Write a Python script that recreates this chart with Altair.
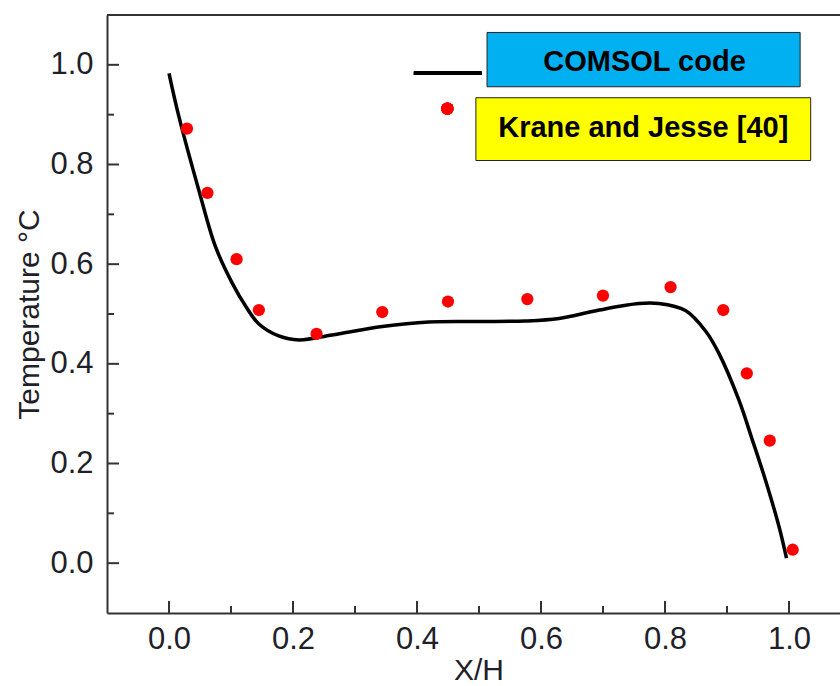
import altair as alt
import pandas as pd

# ---- data ----
line_x = [0.0, 0.016, 0.048, 0.075, 0.102, 0.124, 0.145, 0.177, 0.210, 0.263, 0.344, 0.419,
          0.500, 0.575, 0.629, 0.694, 0.758, 0.790, 0.833, 0.866, 0.887, 0.919, 0.941,
          0.962, 0.984, 0.996]
line_y = [0.983, 0.896, 0.749, 0.635, 0.562, 0.515, 0.480, 0.456, 0.448, 0.458, 0.475, 0.484,
          0.485, 0.486, 0.491, 0.508, 0.521, 0.521, 0.507, 0.465, 0.421, 0.328, 0.247,
          0.167, 0.073, 0.010]

pt_x = [0.029, 0.062, 0.109, 0.145, 0.238, 0.344, 0.450, 0.578, 0.700, 0.809, 0.894, 0.932, 0.969, 1.006]
pt_y = [0.872, 0.743, 0.610, 0.508, 0.460, 0.504, 0.525, 0.530, 0.537, 0.554, 0.508, 0.381, 0.246, 0.027]

major_ticks = [0.0, 0.2, 0.4, 0.6, 0.8, 1.0]
minor_ticks = [0.1, 0.3, 0.5, 0.7, 0.9]

series_labels = ["COMSOL code", "Krane and Jesse [40]"]

# ---- layout ----
W, H = 733, 598
FONT = "Liberation Sans, Arial, sans-serif"
AX = "#333333"
TXT = "#1f1f2a"

xs = alt.Scale(domain=[-0.1, 1.0823], nice=False, zero=False)
ys = alt.Scale(domain=[-0.1, 1.1], nice=False, zero=False)

line_df = pd.DataFrame({"x": line_x, "y": line_y})
pt_df = pd.DataFrame({"x": pt_x, "y": pt_y})
major_df = pd.DataFrame({"v": major_ticks})
minor_df = pd.DataFrame({"v": minor_ticks})

x_axis = alt.Axis(values=major_ticks, format=".1f", ticks=False, grid=False,
                  domainColor=AX, domainWidth=2, labelFlush=False,
                  labelFont=FONT, labelFontSize=31, labelColor=TXT,
                  labelPadding=35, labelBaseline="alphabetic",
                  title="X/H", titleFont=FONT, titleFontSize=30, titleFontWeight="normal",
                  titleColor=TXT, titleX=371.5, titleY=66, titleBaseline="alphabetic",
                  titleAlign="center")
y_axis = alt.Axis(values=major_ticks, format=".1f", ticks=False, grid=False,
                  domainColor=AX, domainWidth=2, labelFlush=False,
                  labelFont=FONT, labelFontSize=31, labelColor=TXT, labelPadding=14,
                  title="Temperature °C", titleFont=FONT, titleFontSize=30,
                  titleFontWeight="normal", titleColor=TXT, titleAngle=270,
                  titleX=-69, titleY=299, titleBaseline="alphabetic", titleAlign="center")


def X(field=None, **kw):
    if field is None:
        return alt.X(scale=xs, axis=x_axis, **kw)
    return alt.X(field, scale=xs, axis=x_axis, **kw)


def Y(field=None, **kw):
    if field is None:
        return alt.Y(scale=ys, axis=y_axis, **kw)
    return alt.Y(field, scale=ys, axis=y_axis, **kw)


line = alt.Chart(line_df).mark_line(color="black", strokeWidth=3.5, interpolate="catmull-rom").encode(
    x=X("x:Q"), y=Y("y:Q"))

points = alt.Chart(pt_df).mark_point(filled=True, color="#ff0000", opacity=1, size=150).encode(
    x=X("x:Q"), y=Y("y:Q"))

# inward ticks
y_major = alt.Chart(major_df).mark_rule(color=AX, strokeWidth=2).encode(
    y=Y("v:Q"), x=alt.value(0), x2=alt.value(12))
y_minor = alt.Chart(minor_df).mark_rule(color=AX, strokeWidth=2).encode(
    y=Y("v:Q"), x=alt.value(0), x2=alt.value(7))
x_major = alt.Chart(major_df).mark_rule(color=AX, strokeWidth=2).encode(
    x=X("v:Q"), y=alt.value(H), y2=alt.value(H - 12))
x_minor = alt.Chart(minor_df).mark_rule(color=AX, strokeWidth=2).encode(
    x=X("v:Q"), y=alt.value(H), y2=alt.value(H - 7))

top_border = alt.Chart(major_df).mark_rule(color=AX, strokeWidth=2).encode(
    y=Y(datum=1.1))

# ---- custom legend (annotation) ----
leg_box_df = pd.DataFrame({
    "x1": [0.513, 0.495], "x2": [1.018, 1.035],
    "y1": [1.065, 0.934], "y2": [0.956, 0.808],
    "fill": ["#00b0f0", "#ffff00"],
    "tx": [0.767, 0.765], "ty": [1.006, 0.873],
    "label": series_labels,
})
boxes = alt.Chart(leg_box_df).mark_rect(stroke="#222222", strokeWidth=1).encode(
    x=X("x1:Q"), x2="x2:Q",
    y=Y("y1:Q"), y2="y2:Q",
    fill=alt.Fill("fill:N", scale=None),
)
box_text = alt.Chart(leg_box_df).mark_text(font=FONT, fontSize=29, fontWeight="bold",
                                           color="black", align="center", baseline="middle").encode(
    x=X("tx:Q"), y=Y("ty:Q"), text="label:N")
leg_line = alt.Chart(major_df).mark_rule(color="black", strokeWidth=3.5).encode(
    x=X(datum=0.395), x2=alt.X2(datum=0.504), y=Y(datum=0.983))
leg_pt = alt.Chart(major_df).mark_point(filled=True, color="#ff0000", opacity=1, size=150).encode(
    x=X(datum=0.449), y=Y(datum=0.912))

chart = alt.layer(
    line, top_border, y_major, y_minor, x_major, x_minor, points,
    boxes, box_text, leg_line, leg_pt,
).properties(
    width=W, height=H,
    autosize=alt.AutoSizeParams(type="none"),
    padding={"left": 107, "top": 15, "right": 0, "bottom": 73},
    background="white",
).configure_view(stroke=None)

chart.save("out.html", embed_options={"renderer": "svg", "actions": False})
